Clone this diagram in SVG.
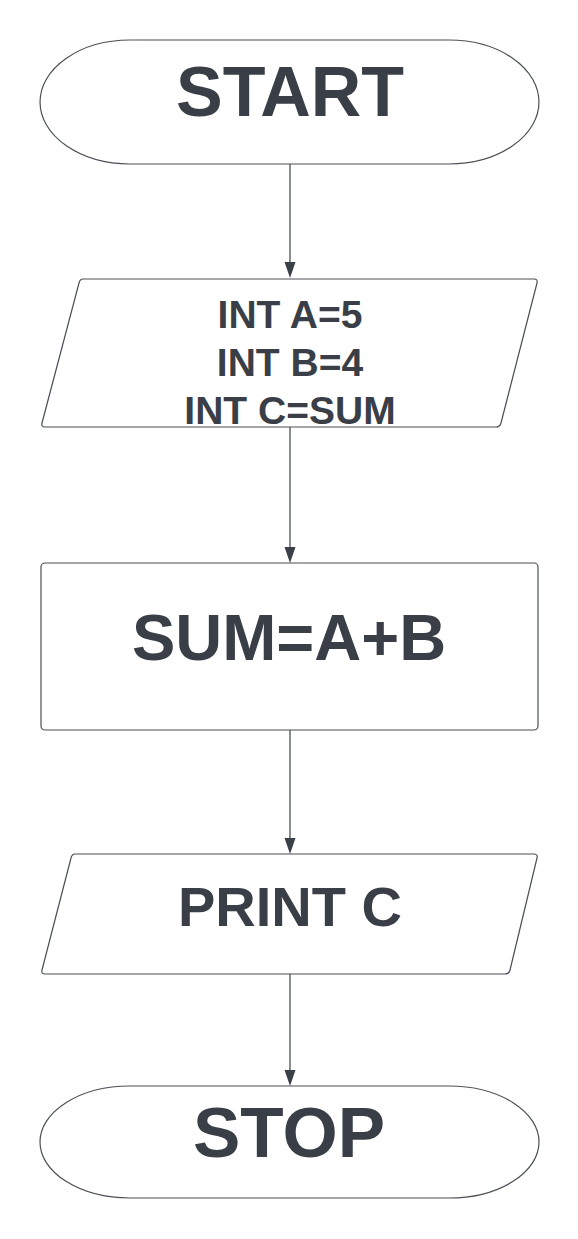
<svg xmlns="http://www.w3.org/2000/svg" width="578" height="1239" viewBox="0 0 578 1239">
<style>
.shape{fill:#ffffff;stroke:#4a4f57;stroke-width:1.2;stroke-linejoin:round}
.lbl{font-family:"Liberation Sans",Arial,sans-serif;font-weight:bold;fill:#393e47;text-anchor:middle}
.conn{stroke:#3a3f48;stroke-width:1.2;fill:none}
</style>
<defs>
<marker id="arr" markerUnits="userSpaceOnUse" markerWidth="12" markerHeight="17" refX="5.5" refY="16" orient="auto-start-reverse" viewBox="0 0 11 16">
<path d="M0,0 L11,0 L5.5,16 Z" fill="#3a3f48" transform="rotate(0)"/>
</marker>
</defs>
<rect width="578" height="1239" fill="#ffffff"/>
<g id="connectors">
<line class="conn" x1="290" y1="164" x2="290" y2="262"/>
<path d="M284.5,262 L295.5,262 L290,278 Z" fill="#3a3f48"/>
<line class="conn" x1="290" y1="427" x2="290" y2="547"/>
<path d="M284.5,547 L295.5,547 L290,563 Z" fill="#3a3f48"/>
<line class="conn" x1="290" y1="730" x2="290" y2="838"/>
<path d="M284.5,838 L295.5,838 L290,854 Z" fill="#3a3f48"/>
<line class="conn" x1="290" y1="974" x2="290" y2="1070"/>
<path d="M284.5,1070 L295.5,1070 L290,1086 Z" fill="#3a3f48"/>
</g>
<g id="start">
<path class="shape" d="M130,40 H449 A90,62 0 0 1 449,164 H130 A90,62 0 0 1 130,40 Z"/>
<text class="lbl" x="290" y="116" font-size="70">START</text>
</g>
<g id="input">
<path class="shape" d="M83,279 H534 Q538,279 537,283 L501,423 Q500,427 496,427 H45 Q41,427 42,423 L79,283 Q80,279 83,279 Z"/>
<text class="lbl" x="290" y="328" font-size="39">INT A=5</text>
<text class="lbl" x="290" y="376" font-size="39">INT B=4</text>
<text class="lbl" x="290" y="424" font-size="39">INT C=SUM</text>
</g>
<g id="process">
<rect class="shape" x="41" y="563" width="497" height="167" rx="4"/>
<text class="lbl" x="289" y="660" font-size="65">SUM=A+B</text>
</g>
<g id="output">
<path class="shape" d="M75,854 H534 Q538,854 537,858 L510,970 Q509,974 505,974 H45 Q41,974 42,970 L71,858 Q72,854 75,854 Z"/>
<text class="lbl" x="290" y="926" font-size="56">PRINT C</text>
</g>
<g id="stop">
<path class="shape" d="M130,1086 H449 A90,56 0 0 1 449,1198 H130 A90,56 0 0 1 130,1086 Z"/>
<text class="lbl" x="289" y="1157" font-size="71">STOP</text>
</g>
</svg>
